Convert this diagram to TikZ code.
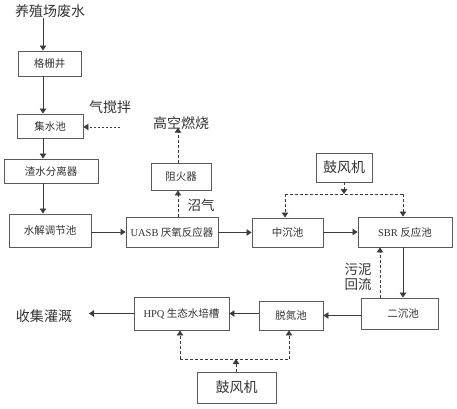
\documentclass[tikz,border=0pt]{standalone}
\usepackage{fontspec}
\setmainfont{Noto Sans CJK SC}
\newfontfamily\lat{Liberation Serif}
\usetikzlibrary{arrows.meta,calc}
\definecolor{boxc}{HTML}{5A5A5A}
\definecolor{linec}{HTML}{3C3C3C}
\definecolor{txtc}{HTML}{333333}
\tikzset{
  bx/.style={draw=boxc,line width=0.9pt,minimum width=#1,inner sep=0pt,font=\fontsize{10.5}{12}\selectfont,text=txtc},
  lbl/.style={font=\fontsize{14}{16}\selectfont,text=txtc,inner sep=0pt},
  flow/.style={draw=linec,line width=0.8pt,-{Triangle[width=6.5pt,length=5pt]}},
  gas/.style={draw=linec,line width=0.8pt,dash pattern=on 3pt off 2pt,-{Triangle[width=6.5pt,length=5pt]}},
  gasl/.style={draw=linec,line width=0.8pt,dash pattern=on 3pt off 2pt}
}
\begin{document}
\begin{tikzpicture}[x=1pt,y=-1pt]
\useasboundingbox (0,0) rectangle (457,408);
% column coordinate
\coordinate (col) at (43,0);
\node[lbl] (src) at (50,11) {养殖场废水};
\node[bx=63pt,minimum height=25pt] (g1) at (49.5,63.5) {格栅井};
\node[bx=66pt,minimum height=24pt] (g2) at (50,126) {集水池};
\node[bx=94pt,minimum height=24pt] (g3) at (51,171) {渣水分离器};
\node[bx=82pt,minimum height=33pt] (g4) at (50,230.5) {水解调节池};
\node[lbl] (air) at (110,107) {气搅拌};
\coordinate (airs) at (120,127);
\node[bx=92pt,minimum height=30pt] (uasb) at (172,232) {{\lat UASB} 厌氧反应器};
\node[bx=60pt,minimum height=27pt] (zh) at (181,176.5) {阻火器};
\node[lbl] (burn) at (181,123) {高空燃烧};
\node[lbl,font=\fontsize{13.5}{15}\selectfont] (gasl) at (201,205) {沼气};
\node[bx=71pt,minimum height=29pt] (zc) at (287.5,232.5) {中沉池};
\node[bx=94pt,minimum height=30pt] (sbr) at (405,232) {{\lat SBR} 反应池};
\node[bx=56pt,minimum height=29pt,font=\fontsize{14}{16}\selectfont] (gf1) at (344,167.5) {鼓风机};
\node[bx=77pt,minimum height=31pt] (ec) at (399.5,313.5) {\hspace{7pt}二沉池};
\node[lbl,font=\fontsize{13.5}{14.5}\selectfont,align=center] (sl) at (358,277) {污泥\\回流};
\node[bx=64pt,minimum height=29pt] (td) at (291,315.5) {脱氮池};
\node[bx=95pt,minimum height=33pt] (hpq) at (181.5,313.5) {{\lat HPQ} 生态水培槽};
\node[lbl] (irr) at (44,316) {收集灌溉};
\node[bx=79pt,minimum height=31pt,font=\fontsize{14}{16}\selectfont] (gf2) at (236.5,387.5) {鼓风机};
% main flow
\draw[flow] (src.south -| col) -- (g1.north -| col);
\draw[flow] (g1.south -| col) -- (g2.north -| col);
\draw[flow] (g2.south -| col) -- (g3.north -| col);
\draw[flow] (g3.south -| col) -- (g4.north -| col);
\draw[gas,dash pattern=on 2pt off 2pt] (airs) -- (airs -| g2.east);
\draw[flow] (g4.east |- uasb) -- (uasb.west);
\coordinate (gx) at (178,0);
\draw[gas] (uasb.north -| gx) -- (zh.south -| gx);
\draw[gas] (zh.north -| gx) -- ($(burn.south -| gx)+(0,-2)$);
\draw[flow] (uasb.east |- zc) -- (zc.west);
\draw[flow] (zc.east |- sbr) -- (sbr.west);
% top blower
\coordinate (j1) at (344,194);
\coordinate (j1l) at (285,194);
\coordinate (j1r) at (403,194);
\draw[gas] (gf1.south) -- (j1);
\draw[gasl] (j1l) -- (j1r);
\draw[gas] (j1l) -- (j1l |- zc.north);
\draw[gas] (j1r) -- (j1r |- sbr.north);
% SBR to secondary settler
\coordinate (sx) at (403,0);
\draw[flow] (sbr.south -| sx) -- (ec.north -| sx);
\coordinate (rx) at (380,0);
\draw[gas] (ec.north -| rx) -- (sbr.south -| rx);
% bottom flow
\draw[flow] (ec.west |- td) -- (td.east);
\draw[flow] (td.west |- hpq) -- (hpq.east);
\coordinate (ie) at (89,0);
\draw[flow] (hpq.west) -- (hpq.west -| ie);
% bottom blower
\coordinate (j2) at (236,359);
\coordinate (j2l) at (180,359);
\coordinate (j2r) at (289,359);
\draw[gas] (gf2.north -| j2) -- (j2);
\draw[gasl] (j2l) -- (j2r);
\draw[gas] (j2l) -- (j2l |- hpq.south);
\draw[gas] (j2r) -- (j2r |- td.south);
\end{tikzpicture}
\end{document}
